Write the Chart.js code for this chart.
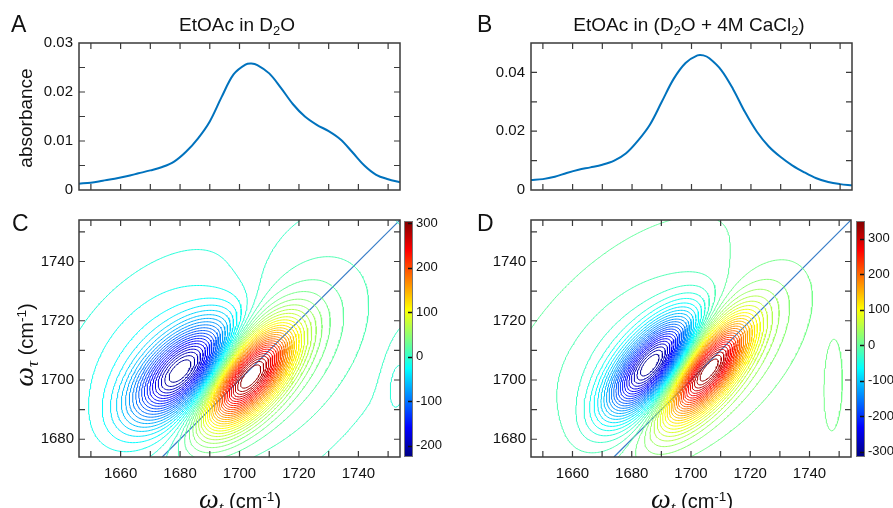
<!DOCTYPE html>
<html><head><meta charset="utf-8">
<script src="https://cdn.jsdelivr.net/npm/chart.js@4.4.1/dist/chart.umd.min.js"></script>
<style>
body{margin:0;background:#fff;width:893px;height:508px;overflow:hidden;position:relative;font-family:"Liberation Sans",Arial,sans-serif;color:#111}
canvas{position:absolute}
.t{position:absolute;white-space:nowrap;line-height:1}
.t sub,.t sup{font-size:0.68em;line-height:0}
.t sub{vertical-align:-0.28em}
.t sup{vertical-align:0.55em}
.w{font-family:"Liberation Serif","DejaVu Serif",serif;font-style:italic}
</style></head><body>
<canvas id="cA" width="420" height="205" style="left:0;top:0"></canvas>
<canvas id="cB" width="420" height="205" style="left:450px;top:0"></canvas>
<canvas id="cC" width="402" height="300" style="left:0;top:205px"></canvas>
<canvas id="cD" width="402" height="300" style="left:450px;top:205px"></canvas>
<canvas id="cbC" width="60" height="300" style="left:400px;top:205px"></canvas>
<canvas id="cbD" width="41" height="300" style="left:852px;top:205px"></canvas>

<div class="t" style="left:11px;top:13px;font-size:23px">A</div>
<div class="t" style="left:477px;top:13px;font-size:23px">B</div>
<div class="t" style="left:12px;top:212px;font-size:23px">C</div>
<div class="t" style="left:477px;top:212px;font-size:23px">D</div>
<div class="t" style="left:237px;top:15px;font-size:19px;transform:translateX(-50%)">EtOAc in D<sub>2</sub>O</div>
<div class="t" style="left:689px;top:15px;font-size:19px;transform:translateX(-50%)">EtOAc in (D<sub>2</sub>O + 4M CaCl<sub>2</sub>)</div>
<div class="t" style="left:25px;top:118px;font-size:19px;transform:translate(-50%,-50%) rotate(-90deg)">absorbance</div>
<div class="t" style="left:240px;top:485px;font-size:20px;transform:translateX(-50%)"><span class="w" style="font-size:28px">ω</span><sub class="w" style="font-size:17px">t</sub> (cm<sup>-1</sup>)</div>
<div class="t" style="left:692px;top:485px;font-size:20px;transform:translateX(-50%)"><span class="w" style="font-size:28px">ω</span><sub class="w" style="font-size:17px">t</sub> (cm<sup>-1</sup>)</div>
<div class="t" style="left:24px;top:345px;font-size:20px;transform:translate(-50%,-50%) rotate(-90deg)"><span class="w" style="font-size:28px">ω</span><sub class="w" style="font-size:17px">τ</sub> (cm<sup>-1</sup>)</div>

<script>
// ---------------- data ----------------
const absWavenumber = [1646,1650,1654,1658,1662,1666,1670,1674,1678,1682,1686,1690,1694,1698,1702,1704,1706,1710,1714,1718,1722,1726,1730,1734,1738,1742,1746,1750,1754];
const absorbanceA = [0.0013,0.0015,0.0019,0.0023,0.0028,0.0034,0.0040,0.0047,0.0058,0.0078,0.0105,0.0140,0.0190,0.0236,0.0256,0.0258,0.0255,0.0238,0.0208,0.0175,0.0150,0.0133,0.0120,0.0103,0.0077,0.0050,0.0031,0.0022,0.0016];
const absorbanceB = [0.0034,0.0037,0.0045,0.0058,0.0069,0.0077,0.0086,0.0100,0.0125,0.0168,0.0222,0.0300,0.0378,0.0432,0.0458,0.0458,0.0448,0.0408,0.0343,0.0265,0.0198,0.0148,0.0112,0.0083,0.0060,0.0040,0.0027,0.0020,0.0016];

const rangeWt = [1646, 1754];
const rangeWtau = [1674, 1754];
const rangeAbsA = [0, 0.03];
const rangeAbsB = [0, 0.05];

const minorTicksWt = [1650,1660,1670,1680,1690,1700,1710,1720,1730,1740,1750];
const labelTicksWt = [1660,1680,1700,1720,1740];
const minorTicksWtau = [1680,1690,1700,1710,1720,1730,1740,1750];
const labelTicksWtau = [1680,1700,1720,1740];
const minorTicksAbsA = [0.005,0.01,0.015,0.02,0.025];
const labelTicksAbsA = [0,0.01,0.02,0.03];
const minorTicksAbsB = [0.01,0.02,0.03,0.04];
const labelTicksAbsB = [0,0.02,0.04];

const colorRangeC = [-225, 305];
const colorTicksC = [-200,-100,0,100,200,300];
const colorRangeD = [-315, 350];
const colorTicksD = [-300,-200,-100,0,100,200,300];
const contourCountC = 50;
const contourCountD = 50;

// 2D lobe components: [blue core, blue wing, red core, red wing, edge feature]
const peakC_wt    = [1681, 1676, 1703, 1712, 1753];
const peakC_wtau  = [1703, 1708, 1701, 1708, 1699];
const peakC_amp   = [-210, -35, 290, 40, -12];
const peakC_sdiag = [14, 25, 14, 28, 9];
const peakC_santi = [7, 16, 6.5, 16, 3];
const peakC_angle = [44, 45, 50, 50, 85];

const peakD_wt    = [1686.7, 1680, 1705.5, 1712, 1748];
const peakD_wtau  = [1704.9, 1710, 1703.2, 1708, 1697];
const peakD_amp   = [-302, -35, 330, 40, 22];
const peakD_sdiag = [14, 24, 14, 24, 12];
const peakD_santi = [6, 13, 5.5, 12, 2.5];
const peakD_angle = [50, 45, 52, 50, 88];

const diagonalLine = [1674, 1754];

// ---------------- helpers ----------------
const FONT = '"Liberation Sans", Arial, sans-serif';
const LINE_BLUE = 'rgb(0,114,189)';

function jet(t){
  t = Math.max(0, Math.min(1, t));
  const c = v => Math.round(255*Math.max(0, Math.min(1, v)));
  return `rgb(${c(1.5-Math.abs(4*t-3))},${c(1.5-Math.abs(4*t-2))},${c(1.5-Math.abs(4*t-1))})`;
}

function makeField(px, py, amp, sd, sa, ang){
  const xs=[], ys=[];
  for(let i=0;;i++){const x=rangeWt[0]+i*0.5; if(x>rangeWt[1]+1e-9)break; xs.push(x);}
  for(let j=0;;j++){const y=rangeWtau[0]+j*0.5; if(y>rangeWtau[1]+1e-9)break; ys.push(y);}
  const Z = ys.map(y => xs.map(x => {
    let s=0;
    for(let k=0;k<amp.length;k++){
      const a = ang[k]*Math.PI/180, dx=x-px[k], dy=y-py[k];
      const u = dx*Math.cos(a)+dy*Math.sin(a), v=-dx*Math.sin(a)+dy*Math.cos(a);
      s += amp[k]*Math.exp(-(u*u/(2*sd[k]*sd[k]) + v*v/(2*sa[k]*sa[k])));
    }
    return s;
  }));
  return {xs, ys, Z};
}

function contour(F, level){
  const {xs, ys, Z} = F, nx=xs.length, ny=ys.length;
  const pos = new Map(), adj = new Map();
  const H=(i,j)=>(j*nx+i)*2, V=(i,j)=>(j*nx+i)*2+1;
  function pt(key){
    if(pos.has(key)) return;
    const id=key>>1, i=id%nx, j=(id-i)/nx;
    if(key%2===0){const z0=Z[j][i], z1=Z[j][i+1], t=(level-z0)/(z1-z0); pos.set(key,{x:xs[i]+t*(xs[i+1]-xs[i]), y:ys[j]});}
    else {const z0=Z[j][i], z1=Z[j+1][i], t=(level-z0)/(z1-z0); pos.set(key,{x:xs[i], y:ys[j]+t*(ys[j+1]-ys[j])});}
  }
  function seg(a,b){pt(a);pt(b);
    if(!adj.has(a))adj.set(a,[]); if(!adj.has(b))adj.set(b,[]);
    adj.get(a).push(b); adj.get(b).push(a);}
  for(let j=0;j<ny-1;j++) for(let i=0;i<nx-1;i++){
    const z00=Z[j][i], z10=Z[j][i+1], z01=Z[j+1][i], z11=Z[j+1][i+1];
    const c=(z00>level?1:0)|(z10>level?2:0)|(z11>level?4:0)|(z01>level?8:0);
    if(c===0||c===15) continue;
    const B=H(i,j), T=H(i,j+1), L=V(i,j), R=V(i+1,j);
    const ctr=(z00+z10+z01+z11)/4>level;
    switch(c){
      case 1: case 14: seg(L,B); break;
      case 2: case 13: seg(B,R); break;
      case 3: case 12: seg(L,R); break;
      case 4: case 11: seg(R,T); break;
      case 6: case 9: seg(B,T); break;
      case 7: case 8: seg(L,T); break;
      case 5: if(ctr){seg(B,R);seg(L,T);}else{seg(L,B);seg(R,T);} break;
      case 10: if(ctr){seg(L,B);seg(R,T);}else{seg(B,R);seg(L,T);} break;
    }
  }
  const out=[], seen=new Set();
  function walk(start){
    const path=[start]; seen.add(start); let cur=start;
    while(true){
      const nb=adj.get(cur).find(n=>!seen.has(n));
      if(nb===undefined){ if(path.length>2 && adj.get(cur).includes(start)) path.push(start); break; }
      path.push(nb); seen.add(nb); cur=nb;
    }
    path.forEach(k=>out.push(pos.get(k)));
    out.push({x:NaN,y:NaN});
  }
  for(const [k,v] of adj) if(v.length===1 && !seen.has(k)) walk(k);
  for(const k of adj.keys()) if(!seen.has(k)) walk(k);
  return out;
}

function contourDatasets(F, crange, n){
  const step=(crange[1]-crange[0])/(n+1), ds=[];
  for(let k=1;k<=n;k++){
    const lv=crange[0]+k*step;
    const data=contour(F, lv);
    if(!data.length) continue;
    ds.push({data, showLine:true, borderColor:jet((lv-crange[0])/(crange[1]-crange[0])), borderWidth:1,
      pointRadius:0, spanGaps:false, parsing:false, normalized:true, tension:0});
  }
  ds.push({data: diagonalLine.map(v=>({x:v,y:v})), showLine:true, borderColor:'rgb(55,125,200)', borderWidth:1.2, pointRadius:0, parsing:false});
  return ds;
}

const boxTicks = {
  id:'boxTicks',
  afterDatasetsDraw(chart, args, o){
    const {ctx, chartArea:a, scales} = chart;
    ctx.save(); ctx.strokeStyle='#3a3a3a'; ctx.lineWidth=1.2;
    ctx.beginPath();
    (o.x||[]).forEach(v=>{const p=scales.x.getPixelForValue(v); ctx.moveTo(p,a.bottom); ctx.lineTo(p,a.bottom-6); ctx.moveTo(p,a.top); ctx.lineTo(p,a.top+6);});
    (o.y||[]).forEach(v=>{const p=scales.y.getPixelForValue(v); ctx.moveTo(a.left,p); ctx.lineTo(a.left+6,p); ctx.moveTo(a.right,p); ctx.lineTo(a.right-6,p);});
    ctx.stroke();
    ctx.lineWidth=1.5; ctx.strokeRect(a.left,a.top,a.right-a.left,a.bottom-a.top);
    ctx.restore();
  }
};

function axis(range, ticks, fmt, size, isX, pad, showLabels){
  return {
    type:'linear', min:range[0], max:range[1],
    afterBuildTicks: s => { s.ticks = ticks.map(v=>({value:v})); },
    afterFit: s => { if(isX) s.height=size; else s.width=size; },
    grid:{display:false, drawTicks:false}, border:{display:false},
    ticks:{display:showLabels, autoSkip:false, maxRotation:0, padding:pad, color:'#111', font:{family:FONT, size:15}, callback: fmt}
  };
}

function baseOptions(pad, xAx, yAx, tk){
  return {
    responsive:false, animation:false, devicePixelRatio:1, events:[],
    layout:{autoPadding:false, padding:pad},
    plugins:{legend:{display:false}, tooltip:{enabled:false}, boxTicks:tk},
    scales:{x:xAx, y:yAx}
  };
}

const fmtAbs = v => v===0 ? '0' : v.toFixed(2);
const fmtInt = v => String(v);

// A
new Chart(document.getElementById('cA'), {
  type:'scatter',
  data:{datasets:[{data:absWavenumber.map((x,i)=>({x, y:absorbanceA[i]})), showLine:true, borderColor:LINE_BLUE, borderWidth:2, pointRadius:0, tension:0.35}]},
  options: baseOptions({left:0,top:43,right:20,bottom:0},
    axis(rangeWt, labelTicksWt, fmtInt, 11, true, 0, false),
    axis(rangeAbsA, labelTicksAbsA, fmtAbs, 79, false, 6, true),
    {x:minorTicksWt, y:minorTicksAbsA}),
  plugins:[boxTicks]
});
// B
new Chart(document.getElementById('cB'), {
  type:'scatter',
  data:{datasets:[{data:absWavenumber.map((x,i)=>({x, y:absorbanceB[i]})), showLine:true, borderColor:LINE_BLUE, borderWidth:2, pointRadius:0, tension:0.35}]},
  options: baseOptions({left:0,top:43,right:18,bottom:0},
    axis(rangeWt, labelTicksWt, fmtInt, 11, true, 0, false),
    axis(rangeAbsB, labelTicksAbsB, fmtAbs, 81, false, 6, true),
    {x:minorTicksWt, y:minorTicksAbsB}),
  plugins:[boxTicks]
});

// C
const fieldC = makeField(peakC_wt, peakC_wtau, peakC_amp, peakC_sdiag, peakC_santi, peakC_angle);
new Chart(document.getElementById('cC'), {
  type:'scatter',
  data:{datasets:contourDatasets(fieldC, colorRangeC, contourCountC)},
  options: baseOptions({left:0,top:15,right:2,bottom:0},
    axis(rangeWt, labelTicksWt, fmtInt, 48, true, 8, true),
    axis(rangeWtau, labelTicksWtau, fmtInt, 79, false, 5, true),
    {x:minorTicksWt, y:minorTicksWtau}),
  plugins:[boxTicks]
});
// D
const fieldD = makeField(peakD_wt, peakD_wtau, peakD_amp, peakD_sdiag, peakD_santi, peakD_angle);
new Chart(document.getElementById('cD'), {
  type:'scatter',
  data:{datasets:contourDatasets(fieldD, colorRangeD, contourCountD)},
  options: baseOptions({left:0,top:15,right:1,bottom:0},
    axis(rangeWt, labelTicksWt, fmtInt, 48, true, 8, true),
    axis(rangeWtau, labelTicksWtau, fmtInt, 81, false, 5, true),
    {x:minorTicksWt, y:minorTicksWtau}),
  plugins:[boxTicks]
});

// colorbars
const cbPlugin = {
  id:'cbPlugin',
  afterDatasetsDraw(chart, args, o){
    const {ctx, chartArea:a, scales} = chart;
    ctx.save(); ctx.strokeStyle='#111'; ctx.lineWidth=1.3; ctx.beginPath();
    o.values.forEach(v=>{const p=Math.round(scales.y.getPixelForValue(v))+0.5; ctx.moveTo(a.right-5,p); ctx.lineTo(a.right,p);});
    ctx.stroke();
    ctx.strokeStyle='#777'; ctx.lineWidth=1; ctx.strokeRect(a.left+0.5,a.top+0.5,a.right-a.left-1,a.bottom-a.top-1);
    ctx.restore();
  }
};
function colorbar(id, range, ticks, axisW){
  new Chart(document.getElementById(id), {
    type:'bar',
    data:{labels:[''], datasets:[{data:[[range[0], range[1]]], borderWidth:0, barPercentage:1, categoryPercentage:1,
      backgroundColor: c => {
        const ch=c.chart, a=ch.chartArea; if(!a) return 'transparent';
        const y0=ch.scales.y.getPixelForValue(range[0]), y1=ch.scales.y.getPixelForValue(range[1]);
        const g=ch.ctx.createLinearGradient(0,y0,0,y1);
        for(let i=0;i<=32;i++) g.addColorStop(i/32, jet(i/32));
        return g;
      }}]},
    options:{
      responsive:false, animation:false, devicePixelRatio:1, events:[],
      layout:{autoPadding:false, padding:{left:4,top:16,right:0,bottom:48}},
      plugins:{legend:{display:false}, tooltip:{enabled:false}, cbPlugin:{values:ticks}},
      scales:{
        x:{display:false},
        y:{position:'right', min:range[0], max:range[1],
          afterBuildTicks: s => { s.ticks = ticks.map(v=>({value:v})); },
          afterFit: s => { s.width = axisW; },
          grid:{display:false, drawTicks:false}, border:{display:false},
          ticks:{padding:3, color:'#111', font:{family:FONT, size:13}, autoSkip:false}}
      }
    },
    plugins:[cbPlugin]
  });
}
colorbar('cbC', colorRangeC, colorTicksC, 47);
colorbar('cbD', colorRangeD, colorTicksD, 28);
</script>
</body></html>
